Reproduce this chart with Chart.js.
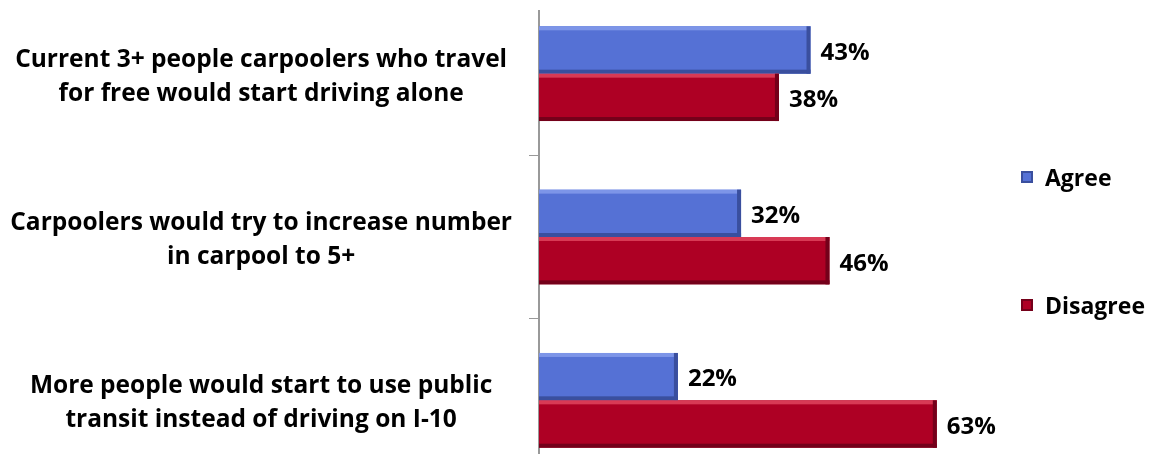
<!DOCTYPE html>
<html>
<head>
<meta charset="utf-8">
<script src="https://cdn.jsdelivr.net/npm/chart.js@4.4.1/dist/chart.umd.min.js"></script>
<style>
  html, body { margin: 0; padding: 0; background: #fff; width: 1155px; height: 454px; overflow: hidden; }
  #wrap { position: absolute; left: 0; top: 10px; width: 1155px; height: 444px; overflow: hidden; }
  #ratingsChart { position: absolute; left: 0; top: -18px; }
  .legend { position: absolute; left: 1021px; font: bold 23px "Open Sans", sans-serif; color: #000; display: flex; align-items: center; line-height: 30px; }
  .legend i { display: inline-block; width: 12px; height: 12px; margin-right: 12px; box-sizing: border-box; }
</style>
</head>
<body>
<div id="wrap"><canvas id="ratingsChart" width="1155" height="490"></canvas></div>
<div class="legend" style="top:162px"><i style="background:#5571d5;border:2px solid #3a4f9e"></i>Agree</div>
<div class="legend" style="top:290px"><i style="background:#ae0024;border:2px solid #74001a"></i>Disagree</div>
<script>
const categories = [
    ['Current 3+ people carpoolers who travel', 'for free would start driving alone'],
    ['Carpoolers would try to increase number', 'in carpool to 5+'],
    ['More people would start to use public', 'transit instead of driving on I-10']
];
const agreeValues = [43, 32, 22];
const disagreeValues = [38, 46, 63];

// bevelled edges on each bar, light along the top and dark along the bottom/right
const bevelPlugin = {
    id: 'bevel',
    afterDatasetsDraw(chart) {
        const ctx = chart.ctx;
        chart.data.datasets.forEach((ds, i) => {
            chart.getDatasetMeta(i).data.forEach(bar => {
                const top = bar.y - bar.height / 2;
                const bottom = bar.y + bar.height / 2;
                const left = bar.base;
                const right = bar.x;
                ctx.save();
                ctx.fillStyle = ds.lightEdge;
                ctx.fillRect(left, top, right - left, 4);
                ctx.fillStyle = ds.darkEdge;
                ctx.fillRect(left, bottom - 4, right - left, 4);
                ctx.fillRect(right - 4, top, 4, bottom - top);
                ctx.restore();
            });
        });
    }
};

// percentage text at the end of each bar
const valueLabels = {
    id: 'valueLabels',
    afterDatasetsDraw(chart) {
        const ctx = chart.ctx;
        ctx.save();
        ctx.font = 'bold 24px "Open Sans", sans-serif';
        ctx.fillStyle = '#000';
        ctx.textAlign = 'left';
        ctx.textBaseline = 'middle';
        chart.data.datasets.forEach((ds, i) => {
            chart.getDatasetMeta(i).data.forEach((bar, j) => {
                ctx.fillText(ds.data[j] + '%', bar.x + 10, bar.y + 3);
            });
        });
        ctx.restore();
    }
};

const ctx = document.getElementById('ratingsChart').getContext('2d');
new Chart(ctx, {
    type: 'bar',
    data: {
        labels: categories,
        datasets: [{
            label: 'Agree',
            data: agreeValues,
            backgroundColor: '#5571d5',
            lightEdge: '#7d95e8',
            darkEdge: '#3a4f9e',
            borderWidth: 0,
            categoryPercentage: 0.58,
            barPercentage: 1.0
        }, {
            label: 'Disagree',
            data: disagreeValues,
            backgroundColor: '#ae0024',
            lightEdge: '#d83a55',
            darkEdge: '#74001a',
            borderWidth: 0,
            categoryPercentage: 0.58,
            barPercentage: 1.0
        }]
    },
    options: {
        indexAxis: 'y',
        responsive: false,
        animation: false,
        layout: { padding: { left: 0, right: 174, top: 0, bottom: 0 } },
        plugins: {
            legend: { display: false },
            tooltip: { enabled: false }
        },
        scales: {
            x: { display: false, min: 0, max: 70 },
            y: {
                grid: {
                    display: true,
                    offset: true,
                    drawOnChartArea: false,
                    drawTicks: true,
                    tickLength: 10,
                    color: '#999'
                },
                border: { display: true, color: '#999', width: 2 },
                ticks: {
                    crossAlign: 'center',
                    padding: 17,
                    labelOffset: 3,
                    color: '#000',
                    font: { family: '"Open Sans", sans-serif', weight: 'bold', size: 24.5, lineHeight: '34px' }
                },
                afterFit(scale) {
                    scale.width = 539;
                    scale.paddingTop = 0;
                    scale.paddingBottom = 0;
                }
            }
        }
    },
    plugins: [bevelPlugin, valueLabels]
});
</script>
</body>
</html>
